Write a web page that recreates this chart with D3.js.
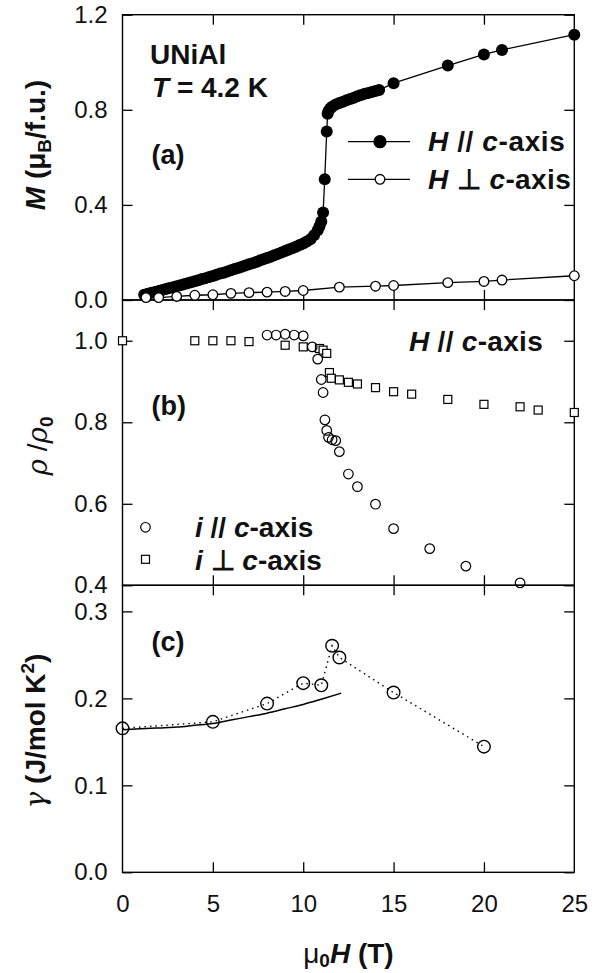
<!DOCTYPE html>
<html><head><meta charset="utf-8">
<script src="https://cdn.jsdelivr.net/npm/d3@7"></script>
<style>body{margin:0;background:#fff}</style>
</head><body>
<svg id="c" width="592" height="973"></svg>
<script>
// ---------- data ----------
const xTicks = [0, 5, 10, 15, 20, 25];
const yTicksA = [0, 0.4, 0.8, 1.2];
const yTicksB = [0.4, 0.6, 0.8, 1.0];
const yTicksC = [0, 0.1, 0.2, 0.3];

// (a) H // c-axis (filled circles)
const fieldA1 = [1.2,1.4,1.6,1.8,2.0,2.2,2.4,2.6,2.8,3.0,3.2,3.4,3.6,3.8,4.0,4.2,4.4,4.6,4.8,5.0,
  5.2,5.4,5.6,5.8,6.0,6.2,6.4,6.6,6.8,7.0,7.2,7.4,7.6,7.8,8.0,8.2,8.4,8.6,8.8,9.0,9.2,9.4,9.6,9.8,
  10.0,10.2,10.4,10.6,10.8,10.9,11.0,11.1,11.19,11.3,11.35,11.4,11.5,11.6,11.8,12.0,12.2,12.4,12.6,
  12.8,13.0,13.2,13.4,13.6,13.8,14.0,14.2,15.0,18.0,20.0,21.0,25.0];
const mA1 = [0.022,0.026,0.030,0.034,0.038,0.042,0.046,0.050,0.054,0.058,0.062,0.066,0.070,0.075,0.079,
  0.083,0.088,0.092,0.097,0.101,0.106,0.111,0.115,0.120,0.125,0.130,0.135,0.140,0.145,0.150,0.155,0.160,
  0.166,0.171,0.177,0.182,0.188,0.194,0.200,0.206,0.212,0.218,0.224,0.231,0.238,0.246,0.256,0.272,0.293,
  0.310,0.330,0.368,0.508,0.709,0.783,0.795,0.806,0.813,0.822,0.829,0.834,0.840,0.845,0.851,0.857,0.862,
  0.867,0.871,0.875,0.879,0.883,0.912,0.986,1.033,1.052,1.116];
// (a) H ⊥ c-axis (open circles)
const fieldA2 = [1.3,2.0,3.0,4.0,5.0,6.0,7.0,8.0,9.0,10.0,12.0,14.0,15.0,18.0,20.0,21.0,25.0];
const mA2 = [0.010,0.010,0.015,0.020,0.022,0.028,0.031,0.033,0.036,0.040,0.054,0.058,0.061,0.073,0.078,0.084,0.102];

// (b) i // c-axis (circles)
const fieldB1 = [0,8.0,8.5,9.0,9.5,10.0,10.5,10.8,11.0,11.1,11.2,11.3,11.4,11.6,11.8,12.0,12.5,13.0,14.0,15.0,17.0,19.0,22.0];
const rhoB1 = [1.0,1.014,1.014,1.016,1.014,1.012,0.985,0.955,0.905,0.873,0.806,0.780,0.763,0.757,0.755,0.728,0.673,0.642,0.599,0.539,0.490,0.447,0.406];
// (b) i ⊥ c-axis (squares)
const fieldB2 = [0,4.0,5.0,6.0,7.0,9.0,10.0,10.9,11.1,11.3,11.45,11.55,12.0,12.5,13.0,14.0,15.0,16.0,18.0,20.0,22.0,23.0,25.0];
const rhoB2 = [1.0,1.0,1.0,1.0,0.998,0.989,0.985,0.981,0.977,0.969,0.922,0.908,0.904,0.898,0.894,0.885,0.875,0.869,0.856,0.844,0.838,0.830,0.824];

// (c) gamma, circles (dotted line) and solid curve
const fieldC = [0,5,8,10,11,11.6,12,15,20];
const gammaC = [0.1655,0.173,0.194,0.2175,0.215,0.2605,0.247,0.2067,0.1445];
const fieldCline = [0,1,2,3,4,5,6,7,8,9,10,11,12.1];
const gammaCline = [0.164,0.165,0.166,0.167,0.169,0.171,0.175,0.179,0.183,0.188,0.193,0.199,0.206];

// ---------- layout ----------
const svg = d3.select('#c');
const FONT = "'Liberation Sans', Arial, Helvetica, sans-serif";
const x = d3.scaleLinear().domain([0, 25]).range([122.5, 574.3]);
const yA = d3.scaleLinear().domain([0, 1.2]).range([300, 14.7]);
const yB = d3.scaleLinear().domain([0.4, 1.1]).range([585.3, 300]);
const yC = d3.scaleLinear().domain([0, 0.33]).range([872.3, 585.3]);
const TL = 10;

function panel(y, yt, fmt, showX) {
  const [y0, y1] = y.range();
  const g = svg.append('g');
  g.append('g').attr('transform', `translate(${x.range()[0]},0)`)
    .call(d3.axisLeft(y).tickValues(yt).tickFormat(fmt).tickSizeInner(-TL).tickSizeOuter(0).tickPadding(15));
  g.append('g').attr('transform', `translate(${x.range()[1]},0)`)
    .call(d3.axisRight(y).tickValues(yt).tickFormat('').tickSizeInner(-TL).tickSizeOuter(0));
  g.append('g').attr('transform', `translate(0,${y1})`)
    .call(d3.axisTop(x).tickValues(xTicks.slice(1, -1)).tickFormat('').tickSizeInner(-TL).tickSizeOuter(0));
  const bot = d3.axisBottom(x).tickSizeInner(-TL).tickSizeOuter(0).tickPadding(23);
  if (showX) bot.tickValues(xTicks).tickFormat(d3.format('d'));
  else bot.tickValues(xTicks.slice(1, -1)).tickFormat('');
  const bg = g.append('g').attr('transform', `translate(0,${y0})`).call(bot);
  if (showX) bg.selectAll('.tick').filter(d => d === 0 || d === 25).select('line').remove();
  g.selectAll('.domain').remove();
  g.selectAll('.tick line').attr('stroke', '#000').attr('stroke-width', 1.3);
  g.selectAll('.tick text').attr('font-family', FONT).attr('font-size', 24).attr('fill', '#111');
  g.append('rect').attr('x', x.range()[0]).attr('y', y1)
    .attr('width', x.range()[1] - x.range()[0]).attr('height', y0 - y1)
    .attr('fill', 'none').attr('stroke', '#000').attr('stroke-width', 1.4);
}
panel(yA, yTicksA, d3.format('.1f'), false);
panel(yB, yTicksB, d3.format('.1f'), false);
panel(yC, yTicksC, d3.format('.1f'), true);

// ---------- panel (a) ----------
const A1 = fieldA1.map((f, i) => [f, mA1[i]]);
const A2 = fieldA2.map((f, i) => [f, mA2[i]]);
const lineA = d3.line().x(d => x(d[0])).y(d => yA(d[1]));
svg.append('path').attr('d', lineA(A1)).attr('fill', 'none').attr('stroke', '#000').attr('stroke-width', 1.3);
svg.append('path').attr('d', lineA(A2)).attr('fill', 'none').attr('stroke', '#000').attr('stroke-width', 1.3);
svg.append('g').selectAll('circle').data(A1).join('circle')
  .attr('cx', d => x(d[0])).attr('cy', d => yA(d[1])).attr('r', 6).attr('fill', '#000');
svg.append('g').selectAll('circle').data(A2).join('circle')
  .attr('cx', d => x(d[0])).attr('cy', d => yA(d[1])).attr('r', 4.8)
  .attr('fill', '#fff').attr('stroke', '#000').attr('stroke-width', 1.3);

// ---------- panel (b) ----------
const B1 = fieldB1.map((f, i) => [f, rhoB1[i]]);
const B2 = fieldB2.map((f, i) => [f, rhoB2[i]]);
const sq = 8;
svg.append('g').selectAll('rect').data(B2).join('rect')
  .attr('x', d => x(d[0]) - sq / 2).attr('y', d => yB(d[1]) - sq / 2).attr('width', sq).attr('height', sq)
  .attr('fill', '#fff').attr('stroke', '#000').attr('stroke-width', 1.2);
svg.append('g').selectAll('circle').data(B1.filter(d => d[0] > 0)).join('circle')
  .attr('cx', d => x(d[0])).attr('cy', d => yB(d[1])).attr('r', 4.8)
  .attr('fill', 'none').attr('stroke', '#000').attr('stroke-width', 1.2);

// ---------- panel (c) ----------
const C = fieldC.map((f, i) => [f, gammaC[i]]);
const CL = fieldCline.map((f, i) => [f, gammaCline[i]]);
const lineC = d3.line().x(d => x(d[0])).y(d => yC(d[1]));
svg.append('path').attr('d', lineC(C)).attr('fill', 'none').attr('stroke', '#000')
  .attr('stroke-width', 1.4).attr('stroke-dasharray', '1.5,4');
svg.append('path').attr('d', d3.line().curve(d3.curveMonotoneX).x(d => x(d[0])).y(d => yC(d[1]))(CL))
  .attr('fill', 'none').attr('stroke', '#000').attr('stroke-width', 1.5);
svg.append('g').selectAll('circle').data(C).join('circle')
  .attr('cx', d => x(d[0])).attr('cy', d => yC(d[1])).attr('r', 6.3)
  .attr('fill', 'none').attr('stroke', '#000').attr('stroke-width', 1.4);

// ---------- texts ----------
function rich(xp, yp, parts, opts = {}) {
  const t = svg.append('text').attr('x', xp).attr('y', yp)
    .attr('font-family', FONT).attr('font-size', opts.size || 28).attr('font-weight', 'bold')
    .attr('fill', '#111').attr('text-anchor', opts.anchor || 'start');
  if (opts.ls) t.attr('letter-spacing', opts.ls);
  if (opts.rotate) t.attr('transform', `rotate(-90,${xp},${yp})`);
  parts.forEach(p => {
    const s = t.append('tspan').text(p.t);
    if (p.i) s.attr('font-style', 'italic');
    if (p.w) s.attr('font-weight', p.w);
    if (p.f) s.attr('font-family', p.f);
    if (p.fs) s.attr('font-size', p.fs);
    if (p.dy) s.attr('dy', p.dy);
  });
  return t;
}
// panel (a)
rich(150, 63.5, [{t: 'UNiAl'}]);
rich(152, 96.5, [{t: 'T', i: 1}, {t: ' = 4.2 K'}]);
rich(151.5, 164, [{t: '(a)'}], {size: 27});
// legend (a)
[[141.7, true], [179.3, false]].forEach(([ly, filled]) => {
  svg.append('line').attr('x1', 348).attr('x2', 410).attr('y1', ly).attr('y2', ly)
    .attr('stroke', '#000').attr('stroke-width', 1.3);
  svg.append('circle').attr('cx', 380).attr('cy', ly).attr('r', filled ? 6 : 4.8)
    .attr('fill', filled ? '#000' : '#fff').attr('stroke', '#000').attr('stroke-width', 1.3);
});
rich(428, 151, [{t: 'H', i: 1}, {t: ' // '}, {t: 'c', i: 1}, {t: '-axis'}], {size: 28, ls: 0.6});
rich(428, 188.5, [{t: 'H', i: 1}, {t: ' ⊥ '}, {t: 'c', i: 1}, {t: '-axis'}], {size: 28, ls: 0.4});

// panel (b)
rich(409, 351, [{t: 'H', i: 1}, {t: ' // '}, {t: 'c', i: 1}, {t: '-axis'}], {size: 28, ls: 0.3});
rich(151.5, 415, [{t: '(b)'}], {size: 27});
svg.append('circle').attr('cx', 145.5).attr('cy', 527.3).attr('r', 4.8)
  .attr('fill', 'none').attr('stroke', '#000').attr('stroke-width', 1.2);
svg.append('rect').attr('x', 145.5 - sq / 2).attr('y', 559.3 - sq / 2).attr('width', sq).attr('height', sq)
  .attr('fill', 'none').attr('stroke', '#000').attr('stroke-width', 1.2);
rich(195, 537, [{t: 'i', i: 1}, {t: ' // '}, {t: 'c', i: 1}, {t: '-axis'}], {size: 28});
rich(195, 570, [{t: 'i', i: 1}, {t: ' ⊥ '}, {t: 'c', i: 1}, {t: '-axis'}], {size: 28});

// panel (c)
rich(151.5, 651, [{t: '(c)'}], {size: 27});

// axis titles
rich(45, 145, [{t: 'M', i: 1}, {t: ' (μ'}, {t: 'B', fs: 19, dy: 6}, {t: '/f.u.)', dy: -6}], {anchor: 'middle', rotate: 1});
rich(47, 446, [{t: 'ρ', i: 1, w: 'normal', f: "'DejaVu Serif', serif"}, {t: ' /', w: 'normal'},
  {t: 'ρ', i: 1, w: 'normal', f: "'DejaVu Serif', serif"}, {t: '0', fs: 19, dy: 6}], {anchor: 'middle', rotate: 1});
rich(45, 731, [{t: 'γ', i: 1, w: 'normal', f: "'DejaVu Serif', serif"}, {t: ' (J/mol K'},
  {t: '2', fs: 19, dy: -11}, {t: ')', dy: 11}], {anchor: 'middle', rotate: 1});
rich(348.4, 963, [{t: 'μ', w: 'normal'}, {t: '0', fs: 19, dy: 4}, {t: 'H', i: 1, dy: -4}, {t: ' (T)'}], {anchor: 'middle'});
</script>
</body></html>
